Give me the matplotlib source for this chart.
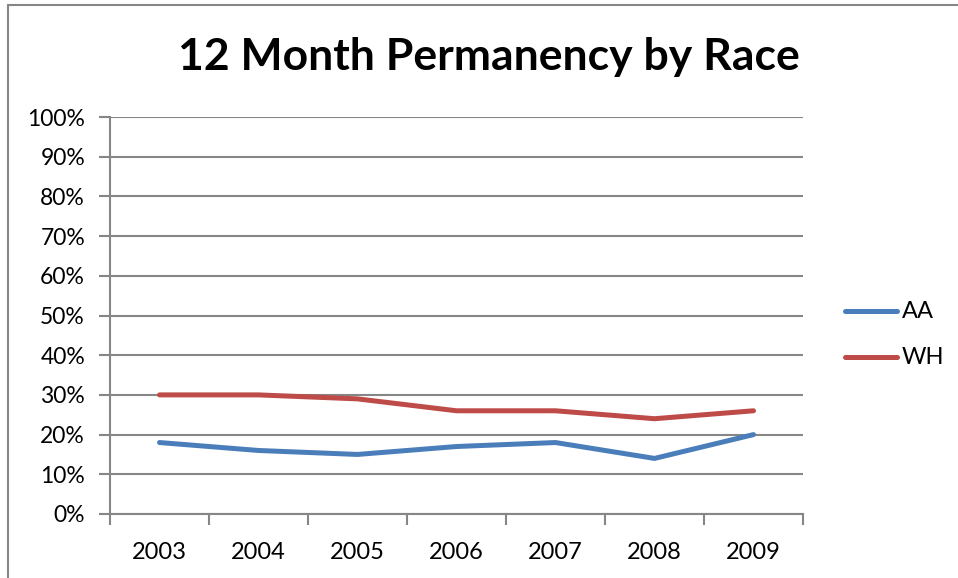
import matplotlib.pyplot as plt
from matplotlib.patches import Rectangle
from matplotlib.lines import Line2D

years = ["2003", "2004", "2005", "2006", "2007", "2008", "2009"]
aa = [18, 16, 15, 17, 18, 14, 20]
wh = [30, 30, 29, 26, 26, 24, 26]
series_names = ["AA", "WH"]
colors = ["#4A7EBB", "#BE4B48"]

plt.rcParams['font.family'] = ['Lato', 'DejaVu Sans']

W, H = 958, 578
fig = plt.figure(figsize=(W / 100, H / 100), dpi=100)

# outer chart frame (left and top edges visible)
fig.add_artist(Rectangle((8 / W, -0.1), 1.2, 1 - 5 / H + 0.1, transform=fig.transFigure,
                         fill=False, edgecolor="#868686", linewidth=1.5))

ax = fig.add_axes([110 / W, 1 - 514 / H, (803 - 110) / W, (514 - 117) / H])
x = list(range(len(years)))
ax.plot(x, aa, color=colors[0], linewidth=3.6, solid_capstyle='round', solid_joinstyle='round')
ax.plot(x, wh, color=colors[1], linewidth=3.6, solid_capstyle='round', solid_joinstyle='round')

ax.set_xlim(-0.5, len(years) - 0.5)
ax.set_ylim(0, 100)
ax.set_yticks(range(0, 101, 10))
ax.set_yticklabels([f"{v}%" for v in range(0, 101, 10)], fontsize=16.5)
ax.set_xticks([i - 0.5 for i in range(len(years) + 1)])
ax.set_xticklabels([])
ax.set_xticks(x, minor=True)
ax.set_xticklabels(years, minor=True, fontsize=17)
ax.tick_params(axis='x', which='minor', length=0, pad=20)
ax.tick_params(axis='x', which='major', length=8, width=1.5, color="#868686", direction='out')
ax.tick_params(axis='y', length=8, width=1.5, color="#868686", direction='out', pad=10)
ax.grid(axis='y', color="#868686", linewidth=1.5)
ax.set_axisbelow(True)
for s in ["top", "right"]:
    ax.spines[s].set_visible(False)
for s in ["left", "bottom"]:
    ax.spines[s].set_color("#868686")
    ax.spines[s].set_linewidth(1.5)

fig.text(489 / W, 1 - 57 / H, "12 Month Permanency by Race", ha='center', va='center',
         fontsize=32, fontweight='bold')

# legend
for i, name in enumerate(series_names):
    yy = 1 - (311 + 46 * i) / H
    fig.add_artist(Line2D([845 / W, 897 / W], [yy, yy], transform=fig.transFigure,
                          color=colors[i], linewidth=3.6, solid_capstyle='round'))
    fig.text(902 / W, yy, name, va='center', ha='left', fontsize=17)

fig.savefig("out.png", dpi=100)
